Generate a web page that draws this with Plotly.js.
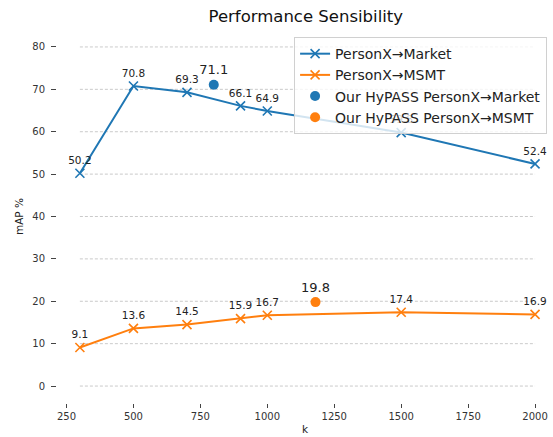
<!DOCTYPE html>
<html>
<head>
<meta charset="utf-8">
<script src="https://cdn.plot.ly/plotly-3.0.1.min.js"></script>
<style>html,body{margin:0;padding:0;background:#fff;}#chart{width:553px;height:437px;}</style>
</head>
<body>
<div id="chart"></div>
<script>
const kValues = [300, 500, 700, 900, 1000, 1500, 2000];
const marketMAP = [50.2, 70.8, 69.3, 66.1, 64.9, 59.8, 52.4];
const msmtMAP = [9.1, 13.6, 14.5, 15.9, 16.7, 17.4, 16.9];
const hypassMarketK = [800];
const hypassMarketMAP = [71.1];
const hypassMsmtK = [1180];
const hypassMsmtMAP = [19.8];
const xTicks = [250, 500, 750, 1000, 1250, 1500, 1750, 2000];
const yTicks = [0, 10, 20, 30, 40, 50, 60, 70, 80];
const seriesNames = ['PersonX→Market', 'PersonX→MSMT', 'Our HyPASS PersonX→Market', 'Our HyPASS PersonX→MSMT'];

const blue = '#1f77b4', orange = '#ff7f0e';
const font = 'DejaVu Sans, sans-serif';

function lineTrace(y, name, color) {
  return {
    x: kValues, y: y, name: name, type: 'scatter', mode: 'lines+markers+text',
    line: {color: color, width: 2},
    marker: {symbol: 'x-thin', size: 9, color: color, line: {color: color, width: 1.6}},
    text: y.map(v => v.toFixed(1)), textposition: 'top center',
    textfont: {family: font, size: 10.5, color: '#222'},
    hoverinfo: 'x+y'
  };
}
function dotTrace(x, y, name, color) {
  return {
    x: x, y: y, name: name, type: 'scatter', mode: 'markers+text',
    marker: {symbol: 'circle', size: 10, color: color},
    text: y.map(v => v.toFixed(1)), textposition: 'top center',
    textfont: {family: font, size: 13, color: '#222'},
    hoverinfo: 'x+y'
  };
}
const data = [
  lineTrace(marketMAP, seriesNames[0], blue),
  lineTrace(msmtMAP, seriesNames[1], orange),
  dotTrace(hypassMarketK, hypassMarketMAP, seriesNames[2], blue),
  dotTrace(hypassMsmtK, hypassMsmtMAP, seriesNames[3], orange)
];

const kMin = Math.min(...kValues), kMax = Math.max(...kValues);
const shapes = yTicks.map(t => ({
  type: 'line', xref: 'x', yref: 'y', x0: kMin, x1: kMax, y0: t, y1: t,
  layer: 'below', line: {color: 'rgba(160,160,160,0.7)', width: 0.8, dash: '3px,2px'}
}));

const layout = {
  width: 553, height: 437,
  margin: {l: 57, r: 0, t: 30, b: 34},
  paper_bgcolor: '#fff', plot_bgcolor: '#fff',
  font: {family: font, color: '#333', size: 10},
  title: {text: 'Performance Sensibility', x: 0.553, xanchor: 'center', y: 0.962, yanchor: 'middle',
          font: {family: font, size: 16.5, color: '#111'}},
  showlegend: true,
  legend: {x: 0.478, y: 0.981, xanchor: 'left', yanchor: 'top',
           bgcolor: 'rgba(255,255,255,0.8)', bordercolor: '#d0d0d0', borderwidth: 1,
           font: {family: font, size: 14, color: '#222'}, itemwidth: 30, tracegroupgap: 0},
  xaxis: {range: [214.5, 2067], tickvals: xTicks, ticktext: xTicks.map(String),
          showgrid: false, zeroline: false, showline: false,
          ticks: 'outside', ticklen: 4, tickwidth: 1, tickcolor: '#444',
          tickfont: {family: font, size: 10, color: '#333'},
          title: {text: 'k', font: {family: font, size: 10.5, color: '#222'}, standoff: 4}},
  yaxis: {range: [-4, 84], tickvals: yTicks, ticktext: yTicks.map(String),
          showgrid: false, zeroline: false, showline: false,
          ticks: 'outside', ticklen: 5, tickwidth: 1, tickcolor: '#444', ticklabelstandoff: 4,
          tickfont: {family: font, size: 10, color: '#333'},
          title: {text: 'mAP %', font: {family: font, size: 10.5, color: '#222'}, standoff: 6}},
  shapes: shapes
};
Plotly.newPlot('chart', data, layout, {displayModeBar: false, staticPlot: true});
</script>
</body>
</html>
